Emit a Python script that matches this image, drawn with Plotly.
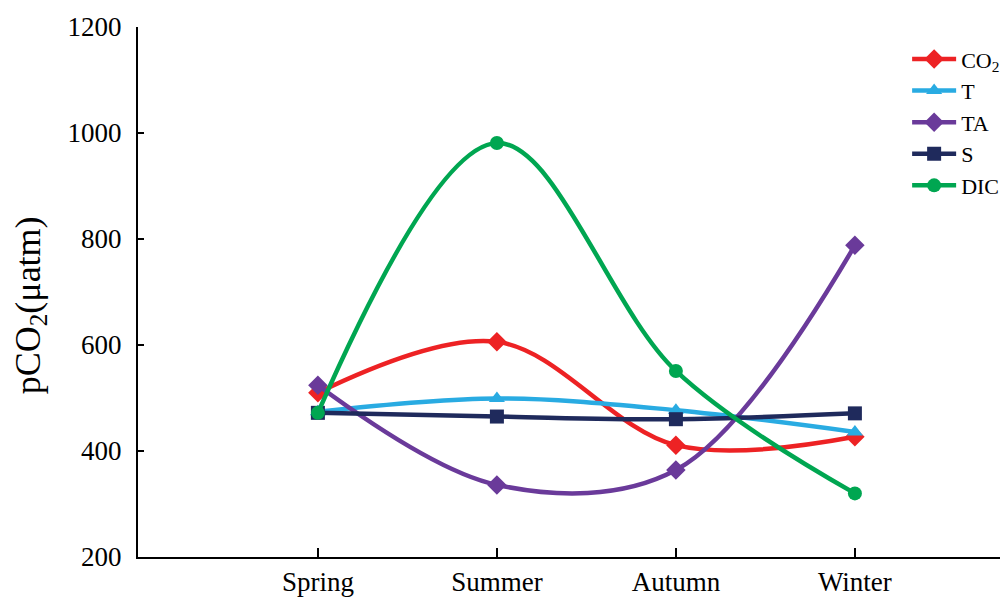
import plotly.graph_objects as go

seasons = ["Spring", "Summer", "Autumn", "Winter"]
co2 = [510, 606, 411, 427]
t_vals = [474, 499, 477, 436]
ta = [524, 336, 364, 788]
s_vals = [472, 465, 460, 471]
dic = [472, 981, 551, 320]

xpos = list(range(len(seasons)))

series = [
    ("CO<sub>2</sub>", co2, "#ED2224", "diamond", 15),
    ("T", t_vals, "#29ABE2", "triangle-up", 14),
    ("TA", ta, "#6A3A9A", "diamond", 15),
    ("S", s_vals, "#1F2A5C", "square", 14),
    ("DIC", dic, "#00A651", "circle", 14),
]

fig = go.Figure()
for i, (name, vals, color, sym, size) in enumerate(series):
    fig.add_trace(go.Scatter(
        x=xpos, y=vals, name=name, mode="lines+markers",
        line=dict(color=color, width=4.5, shape="spline", smoothing=1.0),
        marker=dict(symbol=sym, size=size, color=color),
        legendgroup=str(i),
    ))

fig.update_layout(
    width=1008, height=597,
    margin=dict(l=130, r=0, t=19, b=48),
    paper_bgcolor="white", plot_bgcolor="white",
    font=dict(family="Liberation Serif", color="black", size=26),
    showlegend=True,
    legend=dict(x=0.876, y=0.979, xanchor="left", yanchor="top",
                font=dict(size=22, family="Liberation Serif"),
                itemwidth=44, tracegroupgap=0, traceorder="grouped",
                bgcolor="rgba(0,0,0,0)"),
    xaxis=dict(
        range=[-1.005, 3.9], tickmode="array", tickvals=xpos, ticktext=seasons,
        showline=True, linecolor="black", linewidth=2, showgrid=False, zeroline=False,
        ticks="inside", ticklen=9, tickwidth=2, tickcolor="black",
        tickfont=dict(size=27), automargin=False,
    ),
    yaxis=dict(
        range=[200, 1200], tickvals=[200, 400, 600, 800, 1000, 1200],
        showline=True, linecolor="black", linewidth=2, showgrid=False, zeroline=False,
        ticks="inside", ticklen=6, tickwidth=2, tickcolor="black",
        tickfont=dict(size=27), automargin=False, ticklabelstandoff=9,
    ),
    annotations=[dict(
        text="pCO<sub>2</sub>(μatm)", textangle=-90, showarrow=False,
        xref="paper", yref="paper", x=-0.123, y=0.475,
        xanchor="center", yanchor="middle", font=dict(size=36),
    )],
)

fig.write_html("out.html")
